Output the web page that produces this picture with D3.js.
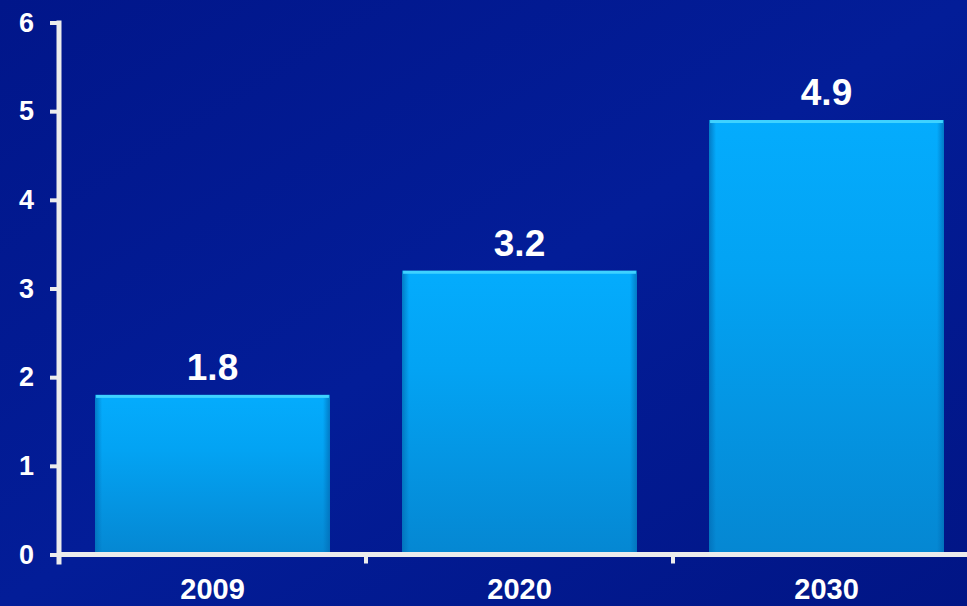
<!DOCTYPE html>
<html>
<head>
<meta charset="utf-8">
<script src="https://cdn.jsdelivr.net/npm/d3@7"></script>
<style>
  html, body { margin: 0; padding: 0; background: #011889; }
  svg { display: block; }
</style>
</head>
<body>
<svg id="chart" width="967" height="606"></svg>
<script>
// Data
const categories = ["2009", "2020", "2030"];
const values = [1.8, 3.2, 4.9];
const yTicks = [0, 1, 2, 3, 4, 5, 6];

const W = 967, H = 606;
const svg = d3.select("#chart");
const defs = svg.append("defs");

// Background gradient (deep blue, slightly brighter towards the middle)
const bg = defs.append("linearGradient").attr("id", "bg")
  .attr("x1", "0").attr("y1", "0").attr("x2", "1").attr("y2", "1");
bg.append("stop").attr("offset", "0").attr("stop-color", "#01168a");
bg.append("stop").attr("offset", "0.5").attr("stop-color", "#031d98");
bg.append("stop").attr("offset", "1").attr("stop-color", "#011585");
svg.append("rect").attr("width", W).attr("height", H).attr("fill", "url(#bg)");

// Bar fill gradient
const bar = defs.append("linearGradient").attr("id", "barFill")
  .attr("x1", "0").attr("y1", "0").attr("x2", "0").attr("y2", "1");
bar.append("stop").attr("offset", "0").attr("stop-color", "#04acfd");
bar.append("stop").attr("offset", "0.35").attr("stop-color", "#03a3f3");
bar.append("stop").attr("offset", "1").attr("stop-color", "#0587d2");

const edgeL = defs.append("linearGradient").attr("id", "barEdge")
  .attr("x1", "0").attr("y1", "0").attr("x2", "1").attr("y2", "0");
edgeL.append("stop").attr("offset", "0").attr("stop-color", "#026fb8").attr("stop-opacity", 0.8);
edgeL.append("stop").attr("offset", "0.03").attr("stop-color", "#026fb8").attr("stop-opacity", 0);
edgeL.append("stop").attr("offset", "0.97").attr("stop-color", "#026fb8").attr("stop-opacity", 0);
edgeL.append("stop").attr("offset", "1").attr("stop-color", "#026fb8").attr("stop-opacity", 0.8);

// Scales
const x0 = 59, xEnd = 980, yBase = 554.5, yTop = 22.5;
const x = d3.scaleBand().domain(categories).range([x0, xEnd])
  .paddingInner(0.235).paddingOuter(0.1175);
const y = d3.scaleLinear().domain([0, 6]).range([yBase, yTop]);

const data = categories.map((c, i) => ({ c, v: values[i] }));

// Bars
const g = svg.append("g");
g.selectAll("rect.bar").data(data).join("rect")
  .attr("class", "bar")
  .attr("x", d => x(d.c))
  .attr("y", d => y(d.v))
  .attr("width", x.bandwidth())
  .attr("height", d => y(0) - y(d.v))
  .attr("fill", "url(#barFill)");
g.selectAll("rect.edge").data(data).join("rect")
  .attr("class", "edge")
  .attr("x", d => x(d.c))
  .attr("y", d => y(d.v))
  .attr("width", x.bandwidth())
  .attr("height", d => y(0) - y(d.v))
  .attr("fill", "url(#barEdge)");
// Bevelled top highlight
g.selectAll("rect.top").data(data).join("rect")
  .attr("class", "top")
  .attr("x", d => x(d.c) + 1)
  .attr("y", d => y(d.v))
  .attr("width", x.bandwidth() - 2)
  .attr("height", 3)
  .attr("fill", "#3fd2ff");

// Value labels
g.selectAll("text.val").data(data).join("text")
  .attr("class", "val")
  .attr("x", d => x(d.c) + x.bandwidth() / 2)
  .attr("y", d => y(d.v) - 15)
  .attr("text-anchor", "middle")
  .attr("fill", "#ffffff")
  .style("font-family", "Liberation Sans, Arial, sans-serif")
  .style("font-weight", "bold")
  .style("font-size", "37px")
  .text(d => d.v.toFixed(1));

const axisColor = "#ececec";

// Y axis
const yAxis = svg.append("g").attr("transform", `translate(${x0},0)`)
  .call(d3.axisLeft(y).tickValues(yTicks).tickFormat(d3.format("d")).tickSize(9).tickPadding(16));
yAxis.select(".domain").remove();
yAxis.selectAll(".tick line").attr("stroke", axisColor).attr("stroke-width", 4);
yAxis.selectAll(".tick text")
  .attr("fill", "#ffffff")
  .style("font-family", "Liberation Sans, Arial, sans-serif")
  .style("font-weight", "bold")
  .style("font-size", "27px");
yAxis.append("line")
  .attr("x1", 0).attr("x2", 0)
  .attr("y1", y(6) - 2).attr("y2", yBase + 10)
  .attr("stroke", axisColor).attr("stroke-width", 5);

// X axis
const xAxis = svg.append("g").attr("transform", `translate(0,${yBase})`)
  .call(d3.axisBottom(x).tickSize(0).tickPadding(24));
xAxis.select(".domain").remove();
xAxis.selectAll(".tick text")
  .attr("fill", "#ffffff")
  .style("font-family", "Liberation Sans, Arial, sans-serif")
  .style("font-weight", "bold")
  .style("font-size", "29px");
xAxis.append("line")
  .attr("x1", x0 - 2).attr("x2", W)
  .attr("y1", 0).attr("y2", 0)
  .attr("stroke", axisColor).attr("stroke-width", 5);
// Category dividers below the axis
const bounds = categories.slice(1).map(c => x(c) - x.step() * x.paddingInner() / 2);
xAxis.selectAll("line.div").data(bounds).join("line")
  .attr("class", "div")
  .attr("x1", d => d).attr("x2", d => d)
  .attr("y1", 0).attr("y2", 9)
  .attr("stroke", axisColor).attr("stroke-width", 4);
</script>
</body>
</html>
